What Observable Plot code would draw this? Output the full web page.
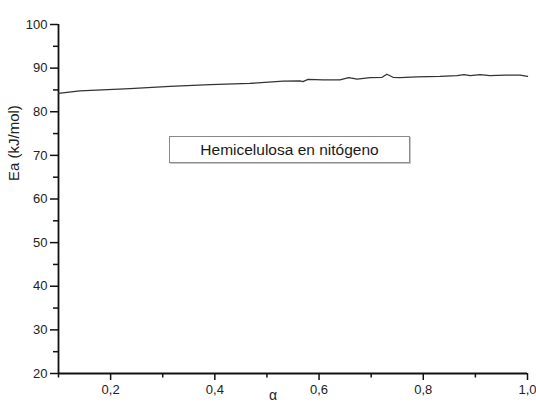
<!DOCTYPE html>
<html>
<head>
<meta charset="utf-8">
<script src="https://cdn.jsdelivr.net/npm/d3@7"></script>
<script src="https://cdn.jsdelivr.net/npm/@observablehq/plot@0.6"></script>
<style>
  html, body { margin: 0; padding: 0; background: #fff; }
  #wrap { position: relative; width: 536px; height: 405px; overflow: hidden; }
  #legend {
    position: absolute; left: 169px; top: 136px; width: 239px; height: 25px;
    border: 1px solid #8a8a8a; box-shadow: 1px 1px 0 #c8c8c8;
    font-family: "Liberation Sans", Arial, sans-serif; font-size: 15.5px; color: #1a1a1a;
    display: flex; align-items: center; justify-content: center; background: #fff;
  }
</style>
</head>
<body>
<div id="wrap"></div>
<script>
// Data
const alpha = [0.100, 0.141, 0.237, 0.314, 0.391, 0.467, 0.531, 0.563, 0.569, 0.579, 0.608, 0.640, 0.657, 0.673, 0.698, 0.721, 0.730, 0.742, 0.755, 0.788, 0.832, 0.865, 0.878, 0.890, 0.909, 0.928, 0.957, 0.986, 1.000];
const ea    = [84.2,  84.8,  85.3,  85.8,  86.2,  86.5,  87.0,  87.1,  86.9,  87.4,  87.3,  87.3,  87.8,  87.5,  87.8,  87.9,  88.6,  87.9,  87.8,  88.0,  88.1,  88.3,  88.5,  88.3,  88.5,  88.3,  88.4,  88.4,  88.1];
const xMajor = [0.2, 0.4, 0.6, 0.8, 1.0];
const xMinor = [0.1, 0.3, 0.5, 0.7, 0.9];
const yMajor = [20, 30, 40, 50, 60, 70, 80, 90, 100];
const yMinor = [25, 35, 45, 55, 65, 75, 85, 95];
const seriesName = "Hemicelulosa en nitógeno";
const yLabel = "Ea (kJ/mol)";
const xLabel = "α";

const data = alpha.map((a, i) => ({alpha: a, ea: ea[i]}));
const comma = d => d.toFixed(1).replace(".", ",");

const chart = Plot.plot({
  width: 536,
  height: 405,
  marginLeft: 58,
  marginRight: 9,
  marginTop: 24,
  marginBottom: 32,
  style: {fontFamily: "'Liberation Sans', Arial, sans-serif", color: "#222", background: "#fff", overflow: "visible"},
  x: {domain: [0.1, 1.0], axis: null},
  y: {domain: [20, 100], axis: null},
  marks: [
    Plot.axisX({ticks: xMajor, tickSize: 7, tickPadding: 4, tickFormat: comma, fontSize: 13, strokeWidth: 1.5, stroke: "#111", fill: "#222", label: null}),
    Plot.axisX({ticks: xMinor, tickSize: 4.5, tickFormat: () => "", strokeWidth: 1.5, stroke: "#111", label: null}),
    Plot.axisY({ticks: yMajor, tickSize: 8, tickPadding: 3, tickFormat: d => String(d), fontSize: 13, strokeWidth: 1.5, stroke: "#111", fill: "#222", label: null}),
    Plot.axisY({ticks: yMinor, tickSize: 5, tickFormat: () => "", strokeWidth: 1.5, stroke: "#111", label: null}),
    Plot.ruleY([20], {stroke: "#111", strokeWidth: 1.8}),
    Plot.ruleX([0.1], {stroke: "#111", strokeWidth: 1.8}),
    Plot.line(data, {x: "alpha", y: "ea", stroke: "#333", strokeWidth: 1.3}),
    Plot.text([yLabel], {frameAnchor: "left", dx: -44, dy: -18, rotate: -90, fontSize: 15, fill: "#222"}),
    Plot.text([xLabel], {frameAnchor: "bottom", dx: -20, dy: 26, fontSize: 14, fill: "#222"})
  ]
});

const wrap = document.getElementById("wrap");
wrap.appendChild(chart);
const legend = document.createElement("div");
legend.id = "legend";
legend.textContent = seriesName;
wrap.appendChild(legend);
</script>
</body>
</html>
